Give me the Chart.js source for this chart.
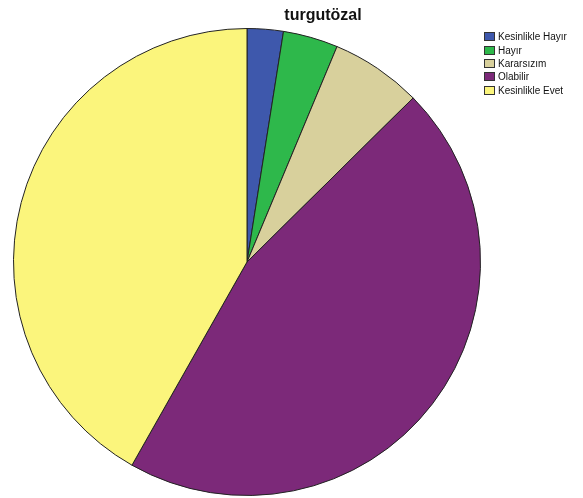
<!DOCTYPE html>
<html lang="tr">
<head>
  <meta charset="UTF-8" />
  <title>turgutözal</title>
  <script src="https://cdn.jsdelivr.net/npm/chart.js"></script>
  <style>
    body { margin: 0; background: #fff; font-family: 'Liberation Sans', Arial, sans-serif; }
    .wrap { position: relative; width: 583px; height: 498px; }
    .title {
      position: absolute; left: 243px; width: 160px; top: 6px;
      text-align: center; font-size: 16px; font-weight: bold; color: #111;
    }
    .legend { position: absolute; left: 484px; top: 30px; font-size: 10px; color: #111; }
    .legend div { height: 13.4px; display: flex; align-items: center; }
    .legend span.box {
      width: 11px; height: 9px; border: 1px solid #333; margin-right: 3px; box-sizing: border-box;
    }
  </style>
</head>
<body>
  <div class="wrap">
    <canvas id="pie" width="583" height="498"></canvas>
    <div class="title">turgutözal</div>
    <div class="legend" id="legend"></div>
  </div>
  <script>
    // answers and share (%)
    const categories = ["Kesinlikle Hayır", "Hayır", "Kararsızım", "Olabilir", "Kesinlikle Evet"];
    const shares = [2.5, 3.8, 6.3, 45.6, 41.8];
    const colors = ["#3e58ac", "#2eb84b", "#d8d09c", "#7c2979", "#fbf57c"];

    const legend = document.getElementById("legend");
    categories.forEach((name, i) => {
      const row = document.createElement("div");
      row.innerHTML = `<span class="box" style="background:${colors[i]}"></span>${name}`;
      legend.appendChild(row);
    });

    new Chart(document.getElementById("pie"), {
      type: "pie",
      data: {
        labels: categories,
        datasets: [{
          data: shares,
          backgroundColor: colors,
          borderColor: "#222",
          borderWidth: 1
        }]
      },
      options: {
        responsive: false,
        animation: false,
        layout: { padding: { left: 13, right: 102, top: 28, bottom: 2 } },
        plugins: {
          legend: { display: false },
          tooltip: { enabled: false }
        }
      }
    });
  </script>
</body>
</html>
